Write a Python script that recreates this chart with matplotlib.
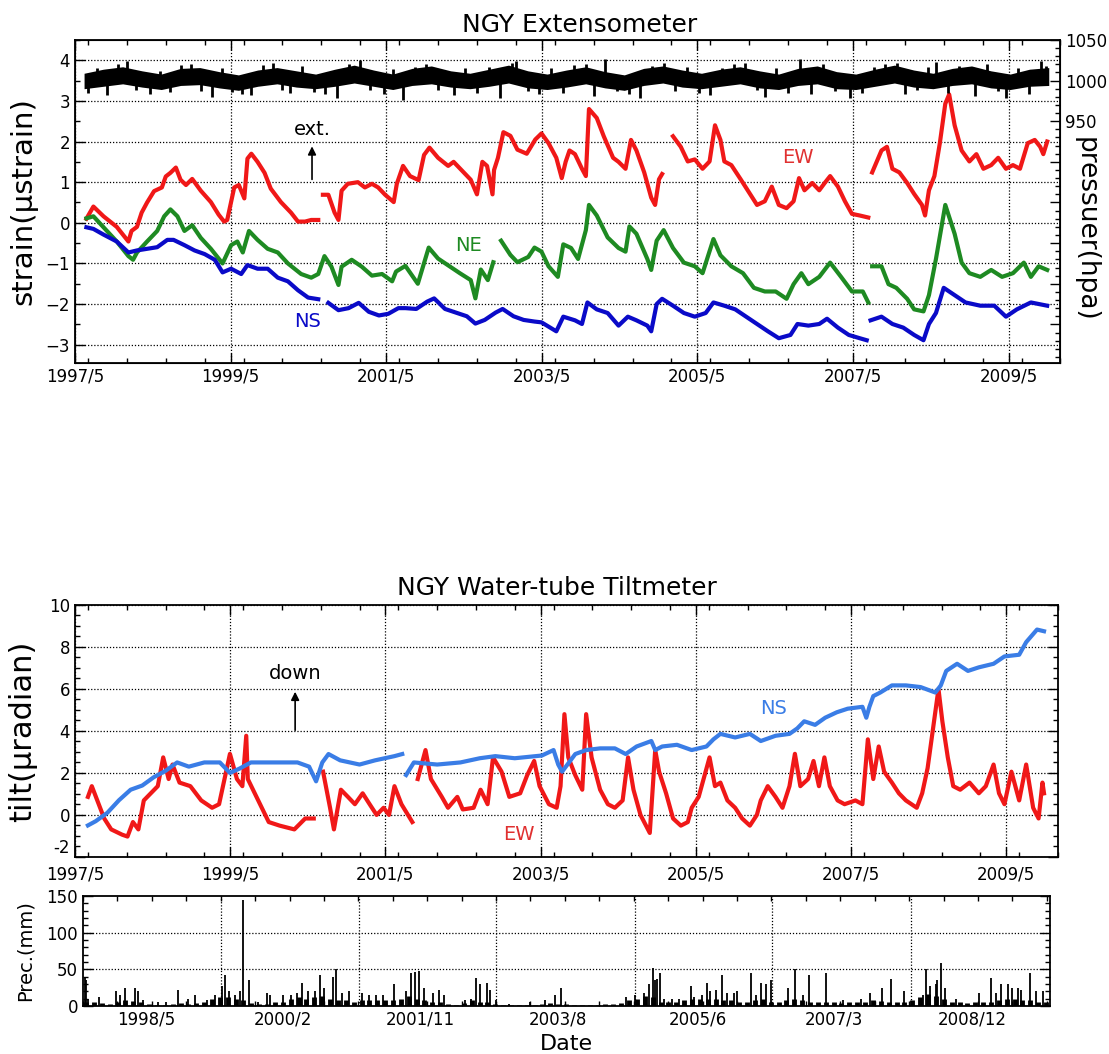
#!/usr/bin/env python3

# NGY extensometer / water-tube tiltmeter / precipitation, 1997-2009

import matplotlib.pyplot as plt
import numpy as np
from matplotlib.ticker import FixedLocator, FuncFormatter, MultipleLocator

nan = None

# --- extensometer (µstrain), time in decimal years -------------------------
ew_t = [1997.48, 1997.57, 1997.7, 1997.87, 1998.02, 1998.06, 1998.13, 1998.19, 1998.26, 1998.35,
        1998.45, 1998.5, 1998.56, 1998.63, 1998.69, 1998.76, 1998.84, 1998.95, 1999.08, 1999.18,
        1999.25, 1999.29, 1999.38, 1999.44, 1999.51, 1999.55, 1999.6, 1999.68, 1999.77, 1999.85,
        1999.98, 2000.11, 2000.2, 2000.29, 2000.37, 2000.46, 2000.49, 2000.52, 2000.59, 2000.67,
        2000.72, 2000.76, 2000.84, 2000.97, 2001.06, 2001.15, 2001.23, 2001.32, 2001.43, 2001.47,
        2001.55, 2001.64, 2001.75, 2001.82, 2001.89, 2002.0, 2002.13, 2002.2, 2002.33, 2002.42,
        2002.5, 2002.57, 2002.63, 2002.7, 2002.72, 2002.77, 2002.84, 2002.93, 2003.02, 2003.14,
        2003.25, 2003.33, 2003.42, 2003.52, 2003.59, 2003.64, 2003.69, 2003.76, 2003.85, 2003.9,
        2003.94, 2004.04, 2004.13, 2004.25, 2004.32, 2004.41, 2004.48, 2004.55, 2004.65, 2004.74,
        2004.79, 2004.84, 2004.88, 2004.95, 2005.02, 2005.12, 2005.21, 2005.3, 2005.4, 2005.49,
        2005.56, 2005.63, 2005.68, 2005.77, 2005.89, 2006.01, 2006.1, 2006.2, 2006.29, 2006.38,
        2006.48, 2006.57, 2006.64, 2006.71, 2006.81, 2006.9, 2006.97, 2007.04, 2007.14, 2007.23,
        2007.32, 2007.42, 2007.53, 2007.55, 2007.58, 2007.7, 2007.77, 2007.84, 2007.93, 2008.03,
        2008.12, 2008.22, 2008.26, 2008.31, 2008.38, 2008.45, 2008.52, 2008.57, 2008.64, 2008.73,
        2008.83, 2008.92, 2009.01, 2009.11, 2009.2, 2009.3, 2009.39, 2009.48, 2009.58, 2009.67,
        2009.74, 2009.78, 2009.83]
ew_v = [0.1, 0.4, 0.16, -0.1, -0.46, -0.2, -0.1, 0.25, 0.5, 0.78,
        0.87, 1.14, 1.23, 1.36, 1.06, 0.93, 1.08, 0.79, 0.51, 0.2,
        0.03, 0.07, 0.87, 0.93, 0.6, 1.58, 1.7, 1.5, 1.23, 0.84,
        0.51, 0.25, 0.03, 0.03, 0.07, 0.07, nan, 0.69, 0.69, 0.25,
        0.07, 0.79, 0.96, 1.0, 0.87, 0.96, 0.87, 0.69, 0.51, 0.96,
        1.4, 1.15, 1.05, 1.67, 1.85, 1.6, 1.4, 1.5, 1.24, 1.06,
        0.7, 1.5, 1.4, 0.7, 1.3, 1.6, 2.23, 2.14, 1.8, 1.7,
        2.05, 2.2, 1.96, 1.6, 1.1, 1.5, 1.78, 1.69, 1.33, 1.15,
        2.8, 2.58, 2.13, 1.6, 1.5, 1.33, 2.04, 1.78, 1.24, 0.62,
        0.44, 1.07, 1.2, nan, 2.13, 1.87, 1.51, 1.56, 1.33, 1.51,
        2.4, 2.04, 1.51, 1.42, 1.07, 0.71, 0.44, 0.53, 0.89, 0.44,
        0.36, 0.53, 1.1, 0.8, 0.98, 0.8, 0.98, 1.15, 0.89, 0.53,
        0.22, 0.18, 0.13, nan, 1.24, 1.78, 1.87, 1.33, 1.24, 0.98,
        0.71, 0.44, 0.18, 0.8, 1.15, 1.96, 2.93, 3.16, 2.4, 1.78,
        1.51, 1.69, 1.33, 1.42, 1.6, 1.33, 1.42, 1.33, 1.96, 2.04,
        1.87, 1.69, 2.0]

ne_t = [1997.48, 1997.57, 1997.7, 1997.87, 1998.02, 1998.08, 1998.13, 1998.26, 1998.39, 1998.48,
        1998.56, 1998.65, 1998.74, 1998.84, 1998.95, 1999.08, 1999.23, 1999.34, 1999.42, 1999.49,
        1999.57, 1999.68, 1999.81, 1999.94, 2000.07, 2000.24, 2000.37, 2000.46, 2000.54, 2000.63,
        2000.72, 2000.76, 2000.89, 2001.02, 2001.15, 2001.28, 2001.41, 2001.46, 2001.58, 2001.74,
        2001.88, 2002.0, 2002.14, 2002.28, 2002.42, 2002.48, 2002.55, 2002.64, 2002.71, 2002.76,
        2002.81, 2002.93, 2003.02, 2003.16, 2003.24, 2003.33, 2003.42, 2003.54, 2003.61, 2003.71,
        2003.8, 2003.9, 2003.94, 2004.04, 2004.18, 2004.32, 2004.41, 2004.46, 2004.55, 2004.69,
        2004.74, 2004.81, 2004.9, 2005.02, 2005.16, 2005.3, 2005.4, 2005.54, 2005.63, 2005.77,
        2005.92, 2006.06, 2006.2, 2006.34, 2006.48, 2006.57, 2006.67, 2006.76, 2006.9, 2007.04,
        2007.18, 2007.32, 2007.46, 2007.53, 2007.55, 2007.58, 2007.7, 2007.79, 2007.89, 2008.03,
        2008.12, 2008.24, 2008.31, 2008.4, 2008.52, 2008.64, 2008.73, 2008.83, 2008.97, 2009.11,
        2009.25, 2009.39, 2009.53, 2009.62, 2009.72, 2009.83]
ne_v = [0.11, 0.16, -0.11, -0.46, -0.82, -0.91, -0.73, -0.46, -0.2, 0.16,
        0.33, 0.16, -0.2, -0.06, -0.37, -0.64, -1.0, -0.55, -0.46, -0.73,
        -0.2, -0.42, -0.64, -0.73, -1.0, -1.26, -1.35, -1.26, -0.82, -1.08,
        -1.53, -1.08, -0.91, -1.08, -1.3, -1.26, -1.44, -1.2, -1.06, -1.5,
        -0.61, -0.88, -1.06, -1.24, -1.41, -1.86, -1.15, -1.41, -0.97, nan,
        -0.44, -0.79, -0.97, -0.84, -0.61, -0.71, -1.07, -1.33, -0.53, -0.62,
        -0.89, -0.18, 0.44, 0.18, -0.36, -0.62, -0.71, -0.09, -0.27, -0.89,
        -1.16, -0.44, -0.18, -0.62, -0.98, -1.07, -1.24, -0.4, -0.8, -1.07,
        -1.24, -1.6, -1.69, -1.69, -1.87, -1.51, -1.24, -1.51, -1.33, -0.98,
        -1.33, -1.69, -1.69, -1.96, nan, -1.07, -1.07, -1.51, -1.6, -1.87,
        -2.13, -2.18, -1.78, -0.89, 0.44, -0.27, -0.98, -1.24, -1.33, -1.16,
        -1.33, -1.24, -0.98, -1.33, -1.07, -1.16]

ns_t = [1997.48, 1997.57, 1997.7, 1997.87, 1998.02, 1998.13, 1998.26, 1998.39, 1998.52, 1998.6,
        1998.74, 1998.87, 1999.0, 1999.13, 1999.23, 1999.34, 1999.47, 1999.55, 1999.68, 1999.81,
        1999.94, 2000.07, 2000.2, 2000.33, 2000.46, 2000.52, 2000.59, 2000.72, 2000.85, 2000.98,
        2001.11, 2001.24, 2001.36, 2001.49, 2001.58, 2001.72, 2001.86, 2001.95, 2002.09, 2002.23,
        2002.37, 2002.48, 2002.6, 2002.74, 2002.83, 2002.97, 2003.1, 2003.24, 2003.33, 2003.52,
        2003.61, 2003.76, 2003.85, 2003.92, 2004.04, 2004.18, 2004.32, 2004.44, 2004.55, 2004.69,
        2004.74, 2004.81, 2004.88, 2005.02, 2005.16, 2005.3, 2005.44, 2005.54, 2005.68, 2005.82,
        2005.96, 2006.1, 2006.24, 2006.38, 2006.53, 2006.62, 2006.76, 2006.9, 2007.0, 2007.14,
        2007.28, 2007.42, 2007.51, 2007.53, 2007.56, 2007.7, 2007.84, 2007.98, 2008.12, 2008.24,
        2008.31, 2008.4, 2008.5, 2008.64, 2008.78, 2008.97, 2009.15, 2009.3, 2009.44, 2009.62,
        2009.83]
ns_v = [-0.11, -0.15, -0.29, -0.46, -0.73, -0.68, -0.64, -0.6, -0.42, -0.42,
        -0.55, -0.68, -0.77, -0.91, -1.22, -1.13, -1.26, -1.04, -1.13, -1.13,
        -1.35, -1.44, -1.66, -1.84, -1.88, nan, -1.97, -2.15, -2.1, -1.97,
        -2.19, -2.28, -2.24, -2.1, -2.1, -2.12, -1.94, -1.86, -2.12, -2.21,
        -2.3, -2.48, -2.39, -2.21, -2.12, -2.3, -2.39, -2.43, -2.45, -2.67,
        -2.31, -2.4, -2.49, -1.96, -2.13, -2.22, -2.53, -2.31, -2.4, -2.53,
        -2.67, -2.0, -1.87, -2.04, -2.22, -2.31, -2.22, -1.96, -2.04, -2.13,
        -2.31, -2.49, -2.67, -2.84, -2.76, -2.49, -2.53, -2.49, -2.36, -2.58,
        -2.76, -2.84, -2.89, nan, -2.4, -2.31, -2.49, -2.58, -2.76, -2.89,
        -2.49, -2.22, -1.6, -1.78, -1.96, -2.04, -2.04, -2.31, -2.13, -1.96,
        -2.04]

# --- atmospheric pressure (hPa): band edges every quarter, plus single spikes ---
press_t = np.linspace(1997.45, 2009.85, 51)
press_hi = [1009, 1014, 1017, 1012, 1008, 1015, 1016, 1011, 1007, 1013, 1016, 1012,
            1008, 1014, 1019, 1013, 1008, 1015, 1018, 1012, 1009, 1014, 1019, 1012,
            1008, 1013, 1017, 1011, 1007, 1015, 1018, 1013, 1009, 1014, 1017, 1012,
            1008, 1015, 1018, 1011, 1008, 1014, 1019, 1013, 1009, 1015, 1018, 1012,
            1008, 1014, 1016]
press_lo = [990, 993, 996, 992, 989, 994, 995, 991, 988, 993, 996, 992,
            990, 993, 997, 993, 989, 994, 996, 992, 990, 993, 997, 991,
            989, 992, 996, 991, 988, 994, 997, 992, 990, 993, 996, 991,
            989, 994, 996, 990, 989, 993, 997, 992, 990, 994, 996, 991,
            989, 993, 994]
spike_t = [1997.5, 1997.62, 1997.75, 1997.88, 1998.0, 1998.12, 1998.3, 1998.42, 1998.55, 1998.7,
           1998.82, 1998.95, 1999.1, 1999.22, 1999.35, 1999.48, 1999.6, 1999.75, 1999.88, 2000.0,
           2000.1, 2000.25, 2000.4, 2000.55, 2000.7, 2000.85, 2001.0, 2001.12, 2001.3, 2001.42,
           2001.55, 2001.7, 2001.85, 2002.0, 2002.2, 2002.35, 2002.5, 2002.65, 2002.8, 2002.95,
           2003.0, 2003.15, 2003.3, 2003.45, 2003.6, 2003.75, 2003.9, 2004.0, 2004.15, 2004.3,
           2004.45, 2004.6, 2004.75, 2004.9, 2005.05, 2005.2, 2005.35, 2005.5, 2005.65, 2005.8,
           2005.95, 2006.1, 2006.2, 2006.35, 2006.5, 2006.65, 2006.8, 2006.95, 2007.1, 2007.3,
           2007.45, 2007.6, 2007.75, 2007.9, 2008.0, 2008.15, 2008.3, 2008.4, 2008.55, 2008.7,
           2008.9, 2009.05, 2009.2, 2009.3, 2009.45, 2009.6, 2009.75, 2009.82]
spike_p = [985, 1015, 982, 1020, 1024, 988, 984, 1012, 986, 1019,
           1021, 987, 980, 1016, 986, 984, 982, 1019, 1022, 988,
           985, 1018, 986, 984, 978, 1020, 1025, 988, 984, 1014,
           976, 1017, 1021, 988, 982, 1016, 985, 1017, 978, 1022,
           1024, 987, 983, 1015, 985, 1019, 1021, 981, 1026, 987,
           984, 979, 1018, 1022, 987, 1017, 985, 982, 1016, 1020,
           1022, 988, 980, 1016, 985, 1027, 983, 1021, 987, 978,
           985, 1017, 1020, 1022, 984, 988, 1017, 1023, 985, 1018,
           981, 1021, 987, 979, 1016, 984, 1024, 1018]

# --- water-tube tilt (µradian) ---------------------------------------------
tns_t = [1997.5, 1997.6, 1997.75, 1997.9, 1998.05, 1998.2, 1998.35, 1998.5, 1998.65, 1998.8,
         1999.0, 1999.2, 1999.33, 1999.45, 1999.6, 1999.8, 2000.0, 2000.2, 2000.35, 2000.44,
         2000.52, 2000.6, 2000.75, 2001.0, 2001.2, 2001.45, 2001.55, 2001.57, 2001.6, 2001.7,
         2002.0, 2002.3, 2002.55, 2002.75, 2003.0, 2003.35, 2003.5, 2003.56, 2003.61, 2003.78,
         2003.92, 2004.1, 2004.29, 2004.43, 2004.57, 2004.76, 2004.81, 2004.9, 2005.09, 2005.28,
         2005.47, 2005.56, 2005.65, 2005.84, 2006.03, 2006.17, 2006.36, 2006.54, 2006.64, 2006.73,
         2006.87, 2007.0, 2007.15, 2007.29, 2007.48, 2007.53, 2007.57, 2007.62, 2007.71, 2007.86,
         2008.04, 2008.23, 2008.42, 2008.49, 2008.56, 2008.7, 2008.84, 2008.98, 2009.17, 2009.31,
         2009.5, 2009.59, 2009.73, 2009.82]
tns_v = [-0.5, -0.3, 0.1, 0.7, 1.2, 1.4, 1.8, 2.1, 2.5, 2.3,
         2.5, 2.5, 2.0, 2.2, 2.5, 2.5, 2.5, 2.5, 2.3, 1.6,
         2.5, 2.9, 2.6, 2.4, 2.6, 2.8, 2.9, nan, 1.9, 2.5,
         2.4, 2.5, 2.7, 2.8, 2.7, 2.83, 3.09, 2.4, 2.06, 2.9,
         3.09, 3.17, 3.17, 2.9, 3.26, 3.52, 3.09, 3.26, 3.34, 3.09,
         3.26, 3.6, 3.86, 3.69, 3.86, 3.52, 3.77, 3.86, 4.12, 4.46,
         4.29, 4.63, 4.89, 5.06, 5.15, 4.63, 5.15, 5.66, 5.83, 6.17,
         6.17, 6.09, 5.83, 6.17, 6.86, 7.2, 6.86, 7.03, 7.2, 7.55,
         7.63, 8.23, 8.83, 8.75]

tew_t = [1997.5, 1997.55, 1997.62, 1997.71, 1997.8, 1997.94, 1998.01, 1998.08, 1998.15, 1998.22,
         1998.31, 1998.4, 1998.47, 1998.54, 1998.59, 1998.68, 1998.82, 1998.96, 1999.1, 1999.19,
         1999.28, 1999.33, 1999.42, 1999.49, 1999.54, 1999.56, 1999.65, 1999.74, 1999.83, 1999.97,
         2000.16, 2000.3, 2000.41, 2000.44, 2000.53, 2000.62, 2000.67, 2000.76, 2000.85, 2000.94,
         2001.04, 2001.13, 2001.22, 2001.31, 2001.38, 2001.45, 2001.54, 2001.68, 2001.7, 2001.75,
         2001.85, 2001.92, 2002.06, 2002.14, 2002.26, 2002.33, 2002.47, 2002.56, 2002.65, 2002.72,
         2002.83, 2002.93, 2003.07, 2003.16, 2003.25, 2003.32, 2003.44, 2003.54, 2003.59, 2003.64,
         2003.69, 2003.78, 2003.87, 2003.92, 2003.99, 2004.1, 2004.2, 2004.29, 2004.39, 2004.46,
         2004.53, 2004.62, 2004.74, 2004.81, 2004.86, 2004.95, 2005.04, 2005.14, 2005.23, 2005.28,
         2005.37, 2005.46, 2005.51, 2005.58, 2005.65, 2005.74, 2005.84, 2005.93, 2006.03, 2006.12,
         2006.17, 2006.26, 2006.36, 2006.45, 2006.54, 2006.61, 2006.68, 2006.78, 2006.85, 2006.92,
         2006.99, 2007.06, 2007.16, 2007.25, 2007.39, 2007.48, 2007.55, 2007.62, 2007.69, 2007.76,
         2007.86, 2007.95, 2008.04, 2008.18, 2008.25, 2008.32, 2008.39, 2008.46, 2008.51, 2008.58,
         2008.65, 2008.74, 2008.86, 2008.98, 2009.07, 2009.17, 2009.24, 2009.31, 2009.4, 2009.5,
         2009.59, 2009.68, 2009.75, 2009.8, 2009.82]
tew_v = [0.86, 1.37, 0.69, -0.17, -0.69, -0.94, -1.03, -0.34, -0.69, 0.69,
         1.03, 1.37, 2.74, 1.71, 2.4, 1.54, 1.37, 0.69, 0.34, 0.51,
         2.06, 2.91, 1.71, 1.37, 3.77, 1.71, 1.03, 0.34, -0.34, -0.51,
         -0.69, -0.17, -0.17, nan, 2.06, 0.34, -0.69, 1.2, 0.86, 0.51,
         1.03, 0.51, 0.0, 0.34, 0.0, 1.37, 0.51, -0.34, nan, 1.71,
         3.09, 1.71, 0.86, 0.34, 0.86, 0.26, 0.34, 1.2, 0.51, 2.74,
         2.06, 0.86, 1.03, 1.89, 2.57, 1.37, 0.51, 0.34, 1.37, 4.8,
         2.74, 1.89, 1.2, 4.8, 2.74, 1.2, 0.51, 0.34, 0.69, 2.74,
         1.2, 0.0, -0.86, 3.09, 2.06, 1.03, -0.17, -0.51, -0.34, 0.34,
         0.86, 2.06, 2.74, 1.37, 1.54, 0.69, 0.34, -0.17, -0.51, 0.0,
         0.69, 1.37, 0.86, 0.34, 1.37, 2.91, 1.37, 1.71, 2.57, 1.37,
         2.74, 1.37, 0.69, 0.51, 0.69, 0.51, 3.6, 1.71, 3.26, 2.06,
         1.54, 1.03, 0.69, 0.34, 1.03, 2.23, 4.12, 6.0, 4.46, 2.74,
         1.37, 1.2, 1.54, 1.03, 1.37, 2.4, 1.03, 0.51, 2.06, 0.69,
         2.4, 0.34, -0.17, 1.54, 1.03]

# --- daily precipitation (mm) ------------------------------------------------
prec_t = [1997.58, 1997.6, 1997.63, 1997.76, 1997.98, 1998.03, 1998.1, 1998.22, 1998.26, 1998.32,
          1998.51, 1998.62, 1998.77, 1998.89, 1998.98, 1999.14, 1999.24, 1999.33, 1999.37, 1999.42,
          1999.49, 1999.55, 1999.6, 1999.67, 1999.78, 1999.9, 1999.94, 2000.1, 2000.21, 2000.28,
          2000.35, 2000.42, 2000.51, 2000.57, 2000.62, 2000.74, 2000.78, 2000.85, 2000.94, 2001.1,
          2001.19, 2001.28, 2001.37, 2001.51, 2001.67, 2001.73, 2001.78, 2001.83, 2001.9, 2002.01,
          2002.08, 2002.15, 2002.42, 2002.49, 2002.55, 2002.6, 2002.69, 2002.73, 2002.81, 2002.97,
          2003.24, 2003.43, 2003.56, 2003.64, 2004.46, 2004.58, 2004.69, 2004.76, 2004.8, 2004.83,
          2004.86, 2004.89, 2004.95, 2005.04, 2005.13, 2005.29, 2005.32, 2005.43, 2005.49, 2005.53,
          2005.6, 2005.68, 2005.74, 2005.83, 2005.87, 2006.05, 2006.11, 2006.18, 2006.24, 2006.3,
          2006.52, 2006.61, 2006.71, 2006.79, 2007.0, 2007.22, 2007.45, 2007.56, 2007.72, 2007.83,
          2008.0, 2008.23, 2008.28, 2008.33, 2008.4, 2008.42, 2008.46, 2008.51, 2008.65, 2008.95,
          2009.1, 2009.16, 2009.23, 2009.32, 2009.37, 2009.44, 2009.48, 2009.6, 2009.67, 2009.76]
prec_v = [40, 35, 10, 12, 20, 15, 25, 25, 20, 8,
          5, 5, 22, 10, 15, 8, 15, 28, 42, 20,
          15, 20, 145, 35, 5, 18, 15, 15, 15, 18,
          32, 20, 20, 42, 25, 40, 50, 18, 20, 18,
          15, 15, 15, 30, 20, 45, 47, 48, 25, 18,
          22, 15, 8, 10, 38, 30, 32, 22, 8, 3,
          5, 8, 15, 25, 12, 15, 18, 30, 52, 35,
          37, 45, 10, 10, 10, 28, 12, 15, 32, 20,
          22, 42, 18, 18, 20, 45, 15, 32, 30, 35,
          25, 50, 15, 42, 45, 8, 10, 18, 25, 37,
          20, 15, 50, 28, 30, 35, 58, 25, 10, 18,
          38, 18, 30, 30, 25, 25, 22, 45, 20, 20]
# background of small daily amounts, one value per 0.1 year from 1997.6
prec_base_t = np.arange(1997.6, 2009.85, 0.1)
prec_base_v = [6, 5, 4, 3,
               5, 8, 7, 6, 3, 2, 2, 3, 4, 3,
               4, 5, 10, 12, 12, 10, 8, 4, 3, 3,
               5, 6, 10, 12, 10, 12, 14, 10, 8, 8,
               6, 8, 8, 8, 8, 8, 10, 14, 10, 8,
               6, 5, 3, 2, 4, 8, 6, 5, 3, 2,
               2, 2, 2, 2, 3, 4, 3, 3, 2, 2,
               2, 2, 3, 3, 4, 8, 10, 14, 12, 6,
               6, 6, 8, 10, 10, 10, 10, 8, 8, 6,
               6, 8, 10, 6, 5, 8, 10, 8, 6, 6,
               5, 5, 4, 5, 6, 6, 8, 7, 6, 5,
               6, 8, 12, 16, 14, 10, 6, 5, 4, 5,
               5, 6, 8, 10, 10, 8, 8, 6, 6]

year_ticks = [1997.333, 1999.333, 2001.333, 2003.333, 2005.333, 2007.333, 2009.333]
year_labels = ["1997/5", "1999/5", "2001/5", "2003/5", "2005/5", "2007/5", "2009/5"]
tilt_ticks = [-2, 0, 2, 4, 6, 8, 10]
tilt_labels = ["-2", "0", "2", "4", "6", "8", "10"]
prec_label_pos = [1998.37, 2000.1, 2001.85, 2003.6, 2005.37, 2007.1, 2008.86]
prec_labels = ["1998/5", "2000/2", "2001/11", "2003/8", "2005/6", "2007/3", "2008/12"]
prec_grid_pos = [1999.31, 2001.07, 2002.81, 2004.57, 2006.32, 2008.08]

c_red = "#f01818"
c_green = "#1e8a22"
c_blue = "#0a0ac8"
c_lblue = "#3a7de6"

tick_font = 12
dotted = (0, (1, 1.5))


def arr(values):
    return np.array([np.nan if v is None else v for v in values], dtype=float)


def style(ax):
    """Inward ticks on every side."""
    ax.tick_params(which="both", direction="in", top=True, right=True, width=1)
    ax.tick_params(which="major", length=7, labelsize=tick_font)
    ax.tick_params(which="minor", length=3.5)
    for s in ax.spines.values():
        s.set_linewidth(1.3)


def main():
    fig = plt.figure(figsize=(11.09, 10.54), dpi=100)

    # ---------------- extensometer ----------------
    ax = fig.add_axes([0.0676, 0.6556, 0.8886, 0.3065])
    ax.plot(ew_t, arr(ew_v), color=c_red, lw=3)
    ax.plot(ne_t, arr(ne_v), color=c_green, lw=3)
    ax.plot(ns_t, arr(ns_v), color=c_blue, lw=3)
    ax.set_xlim(1997.333, 2010.0)
    ax.set_ylim(-3.45, 4.5)
    ax.set_xticks(year_ticks, year_labels)
    ax.xaxis.set_minor_locator(MultipleLocator(0.5))
    ax.yaxis.set_major_locator(MultipleLocator(1))
    ax.yaxis.set_minor_locator(MultipleLocator(0.5))
    style(ax)
    ax.tick_params(right=False, which="both")
    ax.grid(True, which="major", color="k", linestyle=dotted, linewidth=0.9)
    ax.set_ylabel("strain(μstrain)", fontsize=21)
    ax.yaxis.set_label_coords(-0.038, 0.5)

    ax.annotate("", xy=(2000.38, 1.95), xytext=(2000.38, 1.0),
                arrowprops=dict(arrowstyle="-|>", color="k", lw=1.2, mutation_scale=12))
    ax.text(2000.38, 2.3, "ext.", ha="center", va="center", fontsize=14)
    ax.text(2002.39, -0.57, "NE", color=c_green, ha="center", va="center", fontsize=14)
    ax.text(2000.32, -2.43, "NS", color=c_blue, ha="center", va="center", fontsize=14)
    ax.text(2006.62, 1.6, "EW", color="#e03030", ha="center", va="center", fontsize=14)

    # pressure on the right-hand scale (1 µstrain per 50 hPa)
    axp = ax.twinx()
    axp.set_ylim(1000 + (-3.45 - 3.5) * 50, 1050)
    axp.fill_between(press_t, press_lo, press_hi, color="k", lw=0)
    axp.vlines(spike_t, 1003, spike_p, color="k", lw=2)
    axp.yaxis.set_major_locator(MultipleLocator(50))
    axp.yaxis.set_minor_locator(MultipleLocator(10))
    axp.yaxis.set_major_formatter(FuncFormatter(lambda v, p: f"{v:.0f}" if v >= 950 else ""))
    axp.tick_params(which="both", direction="in", width=1)
    axp.tick_params(which="major", length=7, labelsize=tick_font)
    axp.tick_params(which="minor", length=3.5)
    fig.text(0.979, 0.782, "pressuer(hpa)", rotation=270, ha="center", va="center", fontsize=19)

    fig.text(0.523, 0.976, "NGY Extensometer", ha="center", va="center", fontsize=18)

    # ---------------- tiltmeter ----------------
    ax2 = fig.add_axes([0.0676, 0.187, 0.8864, 0.239])
    ax2.plot(tew_t, arr(tew_v), color=c_red, lw=3)
    ax2.plot(tns_t, arr(tns_v), color=c_lblue, lw=3)
    ax2.set_xlim(1997.333, 2010.0)
    ax2.set_ylim(-2, 10)
    ax2.set_xticks(year_ticks, year_labels)
    ax2.xaxis.set_minor_locator(MultipleLocator(0.5))
    ax2.set_yticks(tilt_ticks, tilt_labels)
    ax2.yaxis.set_minor_locator(MultipleLocator(0.5))
    style(ax2)
    ax2.tick_params(axis="x", which="major", pad=6)
    # the lowest label sits just above the axis corner, as in the original
    ax2.get_yticklabels()[0].set_verticalalignment("bottom")
    ax2.grid(True, which="major", color="k", linestyle=dotted, linewidth=0.9)
    ax2.set_ylabel("tilt(μradian)", fontsize=22)
    ax2.yaxis.set_label_coords(-0.038, 0.5)

    ax2.annotate("", xy=(2000.17, 6.0), xytext=(2000.17, 3.9),
                 arrowprops=dict(arrowstyle="-|>", color="k", lw=1.2, mutation_scale=12))
    ax2.text(2000.17, 6.75, "down", ha="center", va="center", fontsize=14)
    ax2.text(2006.34, 5.06, "NS", color=c_lblue, ha="center", va="center", fontsize=14)
    ax2.text(2003.05, -0.95, "EW", color="#e03030", ha="center", va="center", fontsize=14)

    fig.text(0.502, 0.442, "NGY Water-tube Tiltmeter", ha="center", va="center", fontsize=18)

    # ---------------- precipitation ----------------
    ax3 = fig.add_axes([0.0748, 0.0455, 0.872, 0.1044])
    ax3.vlines(prec_base_t, 0, prec_base_v, color="k", lw=3.5)
    ax3.vlines(prec_t, 0, prec_v, color="k", lw=1.3)
    ax3.set_xlim(1997.56, 2009.85)
    ax3.set_ylim(0, 150)
    ax3.set_xticks(prec_label_pos, prec_labels)
    ax3.xaxis.set_minor_locator(FixedLocator(np.arange(1999.31 - 4 * 0.4375, 2010, 0.4375)))
    ax3.yaxis.set_major_locator(MultipleLocator(50))
    ax3.yaxis.set_minor_locator(MultipleLocator(10))
    style(ax3)
    ax3.tick_params(axis="x", which="major", length=0)
    for g in prec_grid_pos:
        ax3.axvline(g, color="k", linestyle=dotted, linewidth=0.9)
    for g in (50, 100):
        ax3.axhline(g, color="k", linestyle=dotted, linewidth=0.9)
    ax3.set_ylabel("Prec.(mm)", fontsize=14)
    ax3.yaxis.set_label_coords(-0.05, 0.5)
    ax3.set_xlabel("Date", fontsize=16)

    fig.savefig("out.png", dpi=100)


if __name__ == "__main__":
    main()
